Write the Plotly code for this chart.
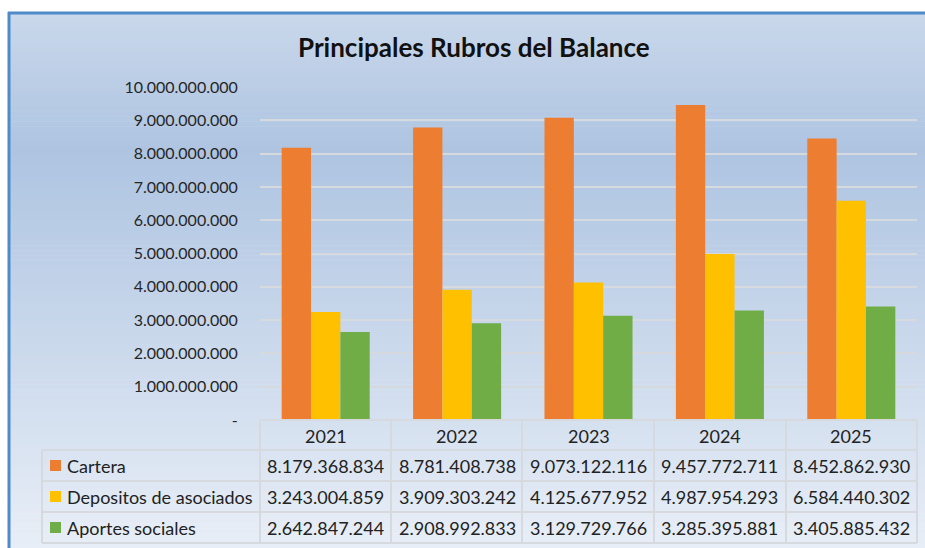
import plotly.graph_objects as go

# ---------------- data ----------------
years = ["2021", "2022", "2023", "2024", "2025"]
series_names = ["Cartera", "Depositos de asociados", "Aportes sociales"]
cartera = [8179368834, 8781408738, 9073122116, 9457772711, 8452862930]
depositos = [3243004859, 3909303242, 4125677952, 4987954293, 6584440302]
aportes = [2642847244, 2908992833, 3129729766, 3285395881, 3405885432]
y_ticks = [0, 1e9, 2e9, 3e9, 4e9, 5e9, 6e9, 7e9, 8e9, 9e9, 10e9]
title_text = "Principales Rubros del Balance"

colors = ["#ED7D31", "#FFC000", "#70AD47"]
FONT = "Lato, 'Open Sans', sans-serif"

W, H = 925, 548
L, R, T, B = 260, 8, 87, 128
PW, PH = W - L - R, H - T - B


def px(x):
    return (x - L) / PW


def py(y):
    return (H - B - y) / PH


def fmt(v):
    return f"{int(v):,}".replace(",", ".")


def hexrgb(h):
    h = h.lstrip("#")
    return tuple(int(h[i:i + 2], 16) for i in (0, 2, 4))


fig = go.Figure()
all_series = [cartera, depositos, aportes]
for name, vals, col in zip(series_names, all_series, colors):
    fig.add_trace(go.Bar(x=years, y=vals, name=name, marker=dict(color=col, line=dict(width=0))))

shapes = []
# background gradient (strips)
stops = [(12, "#c9d8eb"), (150, "#aec4e1"), (548, "#e8eef7")]
top, bot = 12, 548
n = 108
step = (bot - top) / n
for i in range(n):
    y0 = top + i * step
    yc = y0 + step / 2
    for (a, ca), (b, cb) in zip(stops[:-1], stops[1:]):
        if a <= yc <= b:
            t = (yc - a) / (b - a)
            c1, c2 = hexrgb(ca), hexrgb(cb)
            c = tuple(round(c1[k] + (c2[k] - c1[k]) * t) for k in range(3))
            break
    shapes.append(dict(type="rect", xref="paper", yref="paper", layer="below",
                       x0=px(8), x1=px(930), y0=py(y0 + step + 0.6), y1=py(y0),
                       fillcolor="rgb(%d,%d,%d)" % c, line=dict(width=0)))
# chart border
shapes.append(dict(type="line", xref="paper", yref="paper", x0=px(9), x1=px(9), y0=py(12), y1=py(560),
                   line=dict(color="#4f8ac9", width=3)))
shapes.append(dict(type="line", xref="paper", yref="paper", x0=px(8), x1=px(930), y0=py(13), y1=py(13),
                   line=dict(color="#4f8ac9", width=3)))

# table grid
gc = "#d6d9dd"
gw = 2
col_edges = [260, 391, 522, 654, 786, 917]
row_edges = [420, 450, 481, 512, 543]
shapes.append(dict(type="line", xref="paper", yref="paper", x0=px(260), x1=px(917), y0=py(420), y1=py(420),
                   line=dict(color=gc, width=gw)))
for yy in row_edges[1:]:
    shapes.append(dict(type="line", xref="paper", yref="paper", x0=px(42), x1=px(917), y0=py(yy), y1=py(yy),
                       line=dict(color=gc, width=gw)))
for xx in col_edges:
    shapes.append(dict(type="line", xref="paper", yref="paper", x0=px(xx), x1=px(xx), y0=py(420), y1=py(543),
                       line=dict(color=gc, width=gw)))
shapes.append(dict(type="line", xref="paper", yref="paper", x0=px(42), x1=px(42), y0=py(450), y1=py(543),
                   line=dict(color=gc, width=gw)))

annotations = []
annotations.append(dict(text="<b>" + title_text + "</b>", xref="paper", yref="paper", x=px(474), y=py(47),
                        showarrow=False, font=dict(family=FONT, size=26, color="#111111"),
                        xanchor="center", yanchor="middle"))
tf = dict(family=FONT, size=18, color="#222222")
# header years
for i, yr in enumerate(years):
    annotations.append(dict(text=yr, xref="x", yref="paper", x=i, y=py(436), showarrow=False,
                            font=tf, xanchor="center", yanchor="middle"))
# rows
for r, (name, vals, col) in enumerate(zip(series_names, all_series, colors)):
    yc = (row_edges[r + 1] + row_edges[r + 2]) / 2
    shapes.append(dict(type="rect", xref="paper", yref="paper", x0=px(50), x1=px(61),
                       y0=py(yc + 5.5), y1=py(yc - 5.5), fillcolor=col, line=dict(width=0)))
    annotations.append(dict(text=name, xref="paper", yref="paper", x=px(65), y=py(yc), showarrow=False,
                            font=tf, xanchor="left", yanchor="middle"))
    for i, v in enumerate(vals):
        annotations.append(dict(text=fmt(v), xref="x", yref="paper", x=i, y=py(yc), showarrow=False,
                                font=tf, xanchor="center", yanchor="middle"))

fig.update_layout(
    width=W, height=H,
    margin=dict(l=L, r=R, t=T, b=B, pad=0),
    paper_bgcolor="white", plot_bgcolor="rgba(0,0,0,0)",
    barmode="group", bargap=0.33, bargroupgap=0,
    showlegend=False,
    shapes=shapes, annotations=annotations,
    font=dict(family=FONT),
)
fig.update_xaxes(type="category", showticklabels=False, showgrid=False, zeroline=False, showline=False,
                 ticks="", range=[-0.5, 4.5])
fig.update_yaxes(range=[0, 10e9], tickvals=y_ticks,
                 ticktext=[("-" if v == 0 else fmt(v)) for v in y_ticks],
                 showgrid=True, gridcolor="#d6d9dd", gridwidth=2, zeroline=False, showline=False,
                 ticks="outside", ticklen=18, tickcolor="rgba(0,0,0,0)",
                 tickfont=dict(family=FONT, size=16, color="#262626"))

fig.write_html("out.html", config={"displayModeBar": False},
               post_script="document.body.style.margin='0px';document.body.style.overflow='hidden';")
